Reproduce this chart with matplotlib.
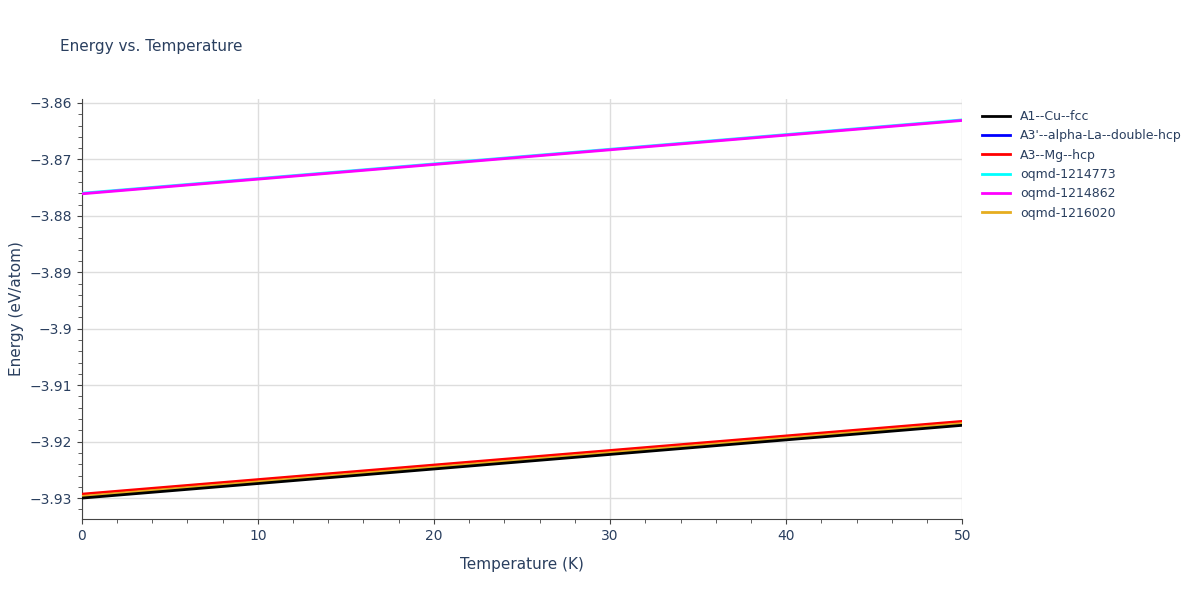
import numpy as np
import matplotlib.pyplot as plt
from matplotlib.ticker import MultipleLocator, FuncFormatter

# Energy vs temperature (endpoints)
temps = [0, 50]
names = ["A1--Cu--fcc", "A3'--alpha-La--double-hcp", "A3--Mg--hcp",
         "oqmd-1214773", "oqmd-1214862", "oqmd-1216020"]
energies = [
    [-3.9300, -3.9171],
    [-3.9298, -3.9169],
    [-3.9293, -3.9164],
    [-3.8760, -3.8630],
    [-3.8761, -3.8631],
    [-3.9297, -3.9168],
]
colors = ["black", "blue", "red", "cyan", "magenta", "#e6ad1f"]
order = [1, 2, 5, 0, 3, 4]  # drawing order so black and magenta sit on top

fig = plt.figure(figsize=(12, 6), dpi=100)
ax = fig.add_axes([0.068, 0.135, 0.734, 0.7])
for z, i in enumerate(order):
    ax.plot(temps, energies[i], color=colors[i], lw=2, label=names[i], zorder=3 + z)

ax.set_xlim(0, 50)
ax.set_ylim(-3.9337, -3.8593)
ax.xaxis.set_major_locator(MultipleLocator(10))
ax.xaxis.set_minor_locator(MultipleLocator(2))
ax.yaxis.set_major_locator(MultipleLocator(0.01))
ax.yaxis.set_minor_locator(MultipleLocator(0.002))
ax.yaxis.set_major_formatter(FuncFormatter(lambda v, p: f"{v:g}".replace("-", "\u2212")))
ax.grid(True, which="major", color="#dddddd", lw=1)
for s in ["top", "right"]:
    ax.spines[s].set_visible(False)
for s in ["left", "bottom"]:
    ax.spines[s].set_color("#444444")
ax.tick_params(colors="#444444", labelcolor="#2a3f5f", labelsize=10)
ax.tick_params(which="minor", length=3, colors="#444444")
ax.set_xlabel("Temperature (K)", color="#2a3f5f", fontsize=11, labelpad=10)
ax.set_ylabel("Energy (eV/atom)", color="#2a3f5f", fontsize=11)
fig.text(0.05, 0.915, "Energy vs. Temperature", color="#2a3f5f", fontsize=11)

handles, labels = ax.get_legend_handles_labels()
hl = sorted(zip(handles, labels), key=lambda t: names.index(t[1]))
ax.legend([h for h, _ in hl], [l for _, l in hl], loc="upper left",
          bbox_to_anchor=(1.01, 1.0), frameon=False, fontsize=9,
          labelcolor="#2a3f5f", handlelength=2.2)

fig.savefig("out.png")
